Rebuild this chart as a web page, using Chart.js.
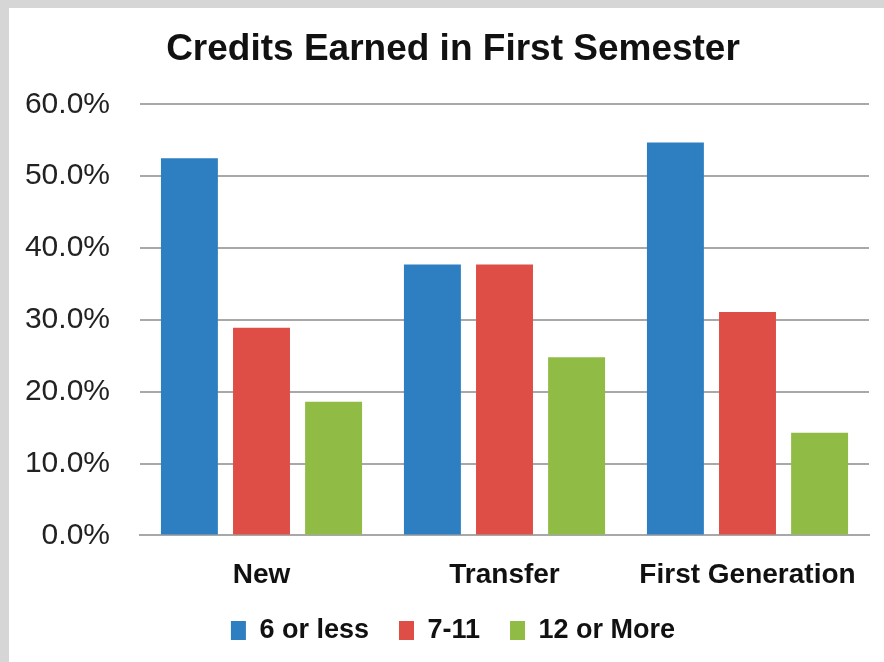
<!DOCTYPE html>
<html>
<head>
<meta charset="utf-8">
<script src="https://cdn.jsdelivr.net/npm/chart.js@4.4.1/dist/chart.umd.min.js"></script>
<style>
  html, body { margin: 0; padding: 0; background: #d6d6d6; }
  #wrap {
    position: absolute; left: 9px; top: 8px;
    width: 875px; height: 654px; background: #ffffff;
  }
</style>
</head>
<body>
<div id="wrap"><canvas id="creditsChart" width="875" height="654"></canvas></div>
<script>
// Chart data
const groups = ['New', 'Transfer', 'First Generation'];
const seriesNames = ['6 or less', '7-11', '12 or More'];
const sixOrLess = [52.5, 37.7, 54.7];
const sevenToEleven = [28.9, 37.7, 31.1];
const twelveOrMore = [18.6, 24.8, 14.3];
const yTicks = [0, 10, 20, 30, 40, 50, 60];

const boldFont = "'Liberation Sans Narrow', 'Arial Narrow', 'Liberation Sans', sans-serif";
const padLeft = 28;

// let the axis labels run past the padded region instead of being clipped
const unclipLabels = {
    id: 'unclipLabels',
    afterLayout: function(chart) {
        chart.scales.y.left = 0;
        chart.scales.x.bottom = chart.height;
    }
};

const ctx = document.getElementById('creditsChart');
new Chart(ctx, {
    type: 'bar',
    data: {
        labels: groups,
        datasets: [{
            label: seriesNames[0],
            data: sixOrLess,
            backgroundColor: '#2d7fc1'
        }, {
            label: seriesNames[1],
            data: sevenToEleven,
            backgroundColor: '#de4e47'
        }, {
            label: seriesNames[2],
            data: twelveOrMore,
            backgroundColor: '#90bc45'
        }]
    },
    plugins: [unclipLabels],
    options: {
        responsive: false,
        animation: false,
        categoryPercentage: 0.89,
        barPercentage: 0.79,
        layout: {
            padding: { left: padLeft, right: 15, top: 0, bottom: 8 }
        },
        plugins: {
            title: {
                display: true,
                text: 'Credits Earned in First Semester',
                color: '#111',
                font: { family: boldFont, size: 37, weight: 'bold' },
                padding: { top: 20, bottom: 32 }
            },
            legend: {
                position: 'bottom',
                labels: {
                    color: '#111',
                    font: { family: boldFont, size: 27, weight: 'bold' },
                    boxWidth: 15,
                    boxHeight: 19,
                    padding: 30
                }
            },
            tooltip: { enabled: false }
        },
        scales: {
            x: {
                grid: { display: false },
                border: { display: true, color: '#a8a8a8', width: 2 },
                afterFit: function(axis) {
                    // make room for the wider legend padding
                    axis.height = axis.height - 20;
                },
                ticks: {
                    color: '#111',
                    font: { family: boldFont, size: 28, weight: 'bold' },
                    padding: 15
                }
            },
            y: {
                min: yTicks[0],
                max: yTicks[yTicks.length - 1],
                afterBuildTicks: function(axis) {
                    axis.ticks = yTicks.map(function(v) { return { value: v }; });
                },
                afterFit: function(axis) {
                    // plot area starts at x = 140 on the page
                    axis.width = 131 - padLeft;
                },
                border: { display: false },
                grid: { color: '#a8a8a8', lineWidth: 2, drawTicks: false },
                ticks: {
                    color: '#222',
                    font: { family: "'Liberation Sans', Arial, sans-serif", size: 30 },
                    padding: 30,
                    callback: function(value) {
                        return value.toFixed(1) + '%';
                    }
                }
            }
        }
    }
});
</script>
</body>
</html>
